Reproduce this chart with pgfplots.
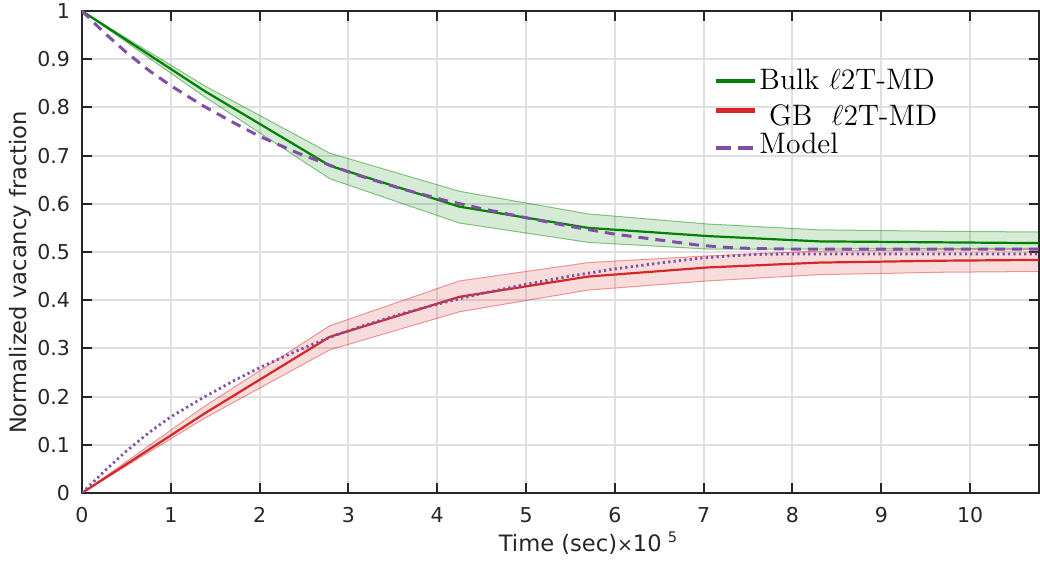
\documentclass[border=0pt]{standalone}
\usepackage{pgfplots}
\pgfplotsset{compat=1.18}
\usepackage{fontspec}
\newfontfamily\djv{DejaVu Sans}

\definecolor{bulk}{RGB}{0,128,0}
\definecolor{gb}{RGB}{214,39,40}
\definecolor{model}{RGB}{126,79,164}
\definecolor{axgray}{RGB}{38,38,38}
\definecolor{gridgray}{RGB}{224,224,224}

% Bulk l2T-MD: mean
\pgfplotstableread{
x     m
0     1.000
1.38  0.834
2.79  0.679
4.25  0.594
5.70  0.550
7.05  0.533
8.30  0.522
9.70  0.520
11.1  0.518
}\bulkdata

% GB l2T-MD: mean
\pgfplotstableread{
x     m
0     0.000
1.38  0.165
2.79  0.324
4.25  0.407
5.70  0.449
7.05  0.468
8.30  0.478
9.70  0.482
11.1  0.484
}\gbdata

% Model: bulk (dashed) and GB (dotted)
\pgfplotstableread{
x      bulk   gb
0      1.000  0.000
0.25   0.955  0.045
0.5    0.914  0.087
0.766  0.875  0.127
1      0.845  0.158
1.366  0.803  0.198
1.7    0.769  0.232
2      0.740  0.260
2.42   0.706  0.295
2.79   0.680  0.323
3.13   0.658  0.345
3.6    0.631  0.372
4.09   0.607  0.396
4.5    0.590  0.414
5      0.571  0.433
5.5    0.553  0.450
6      0.537  0.465
6.5    0.525  0.477
6.95   0.514  0.487
7.3    0.509  0.492
7.6    0.507  0.495
8      0.506  0.496
10.8   0.506  0.496
}\modeldata

\begin{document}
\begin{tikzpicture}
\begin{axis}[
  at={(41pt,34.5pt)}, anchor=south west,
  scale only axis, width=478.25pt, height=241pt,
  xmin=0, xmax=10.77, ymin=0, ymax=1,
  xtick={0,1,2,3,4,5,6,7,8,9,10},
  ytick={0,0.1,0.2,0.3,0.4,0.5,0.6,0.7,0.8,0.9,1},
  /pgf/number format/assume math mode=true,
  tick label style={font=\fontsize{10.25}{12}\selectfont\djv, text=axgray},
  xticklabel style={yshift=-3.5pt},
  yticklabel style={xshift=-2.5pt},
  grid=major,
  major grid style={draw=gridgray, line width=1pt},
  tick align=inside, major tick length=5pt,
  tick style={draw=axgray, line width=1pt},
  axis line style={draw=axgray, line width=1pt},
  xlabel={Time (sec)\rlap{{\fontsize{9.5}{11}\selectfont ×}10\hspace{3pt}\raisebox{4.5pt}{\fontsize{7.3}{9}\selectfont\djv 5}}},
  xlabel style={at={(axis description cs:0.4976,-0.1224)}, anchor=base,
                font=\fontsize{11.3}{13}\selectfont\djv, text=axgray},
  ylabel={Normalized vacancy fraction},
  ylabel style={at={(axis description cs:-0.0767,0.4575)}, anchor=north, inner sep=0pt,
                font=\fontsize{11.3}{13}\selectfont\djv, text=axgray},
  legend style={draw=none, fill=none, at={(rel axis cs:0.66,0.884)}, anchor=north west,
                font=\fontsize{14.8}{17}\selectfont, inner sep=0pt,
                nodes={inner sep=1pt}},
  legend cell align=left,
  legend image code/.code={\draw[#1] (0pt,0pt) -- (19.5pt,0pt);},
]
% spread bands (upper edge forward, lower edge back)
\addplot[forget plot, draw=bulk, draw opacity=0.45, line width=0.5pt, fill=bulk, fill opacity=0.16]
  coordinates {(0,1) (1.38,0.845) (2.79,0.705) (4.25,0.626) (5.70,0.579) (7.05,0.558) (8.30,0.546) (9.70,0.543) (11.1,0.541)
               (11.1,0.508) (9.70,0.507) (8.30,0.506) (7.05,0.506) (5.70,0.520) (4.25,0.560) (2.79,0.652) (1.38,0.822) (0,1)};
\addplot[forget plot, draw=gb, draw opacity=0.45, line width=0.5pt, fill=gb, fill opacity=0.16]
  coordinates {(0,0) (1.38,0.180) (2.79,0.347) (4.25,0.440) (5.70,0.478) (7.05,0.492) (8.30,0.502) (9.70,0.505) (11.1,0.506)
               (11.1,0.460) (9.70,0.458) (8.30,0.453) (7.05,0.440) (5.70,0.421) (4.25,0.376) (2.79,0.297) (1.38,0.155) (0,0)};
% mean curves
\addplot[bulk, line width=1.1pt, legend image post style={line width=2.4pt}] table[x=x, y=m] {\bulkdata};
\addlegendentry{Bulk $\ell$2T-MD}
\addplot[gb, line width=1.1pt, legend image post style={line width=2.4pt, yshift=1pt}] table[x=x, y=m] {\gbdata};
\addlegendentry{\rule{0pt}{14.5pt}~GB~~$\ell$2T-MD}
\addplot[model, line width=1.5pt, dash pattern=on 5pt off 3.5pt,
         legend image post style={line width=2.4pt, dash pattern=on 7.5pt off 3.5pt, yshift=-1.7pt}] table[x=x, y=bulk] {\modeldata};
\addlegendentry{Model}
\addplot[forget plot, model, line width=1.4pt, dash pattern=on 1.1pt off 1.6pt] table[x=x, y=gb] {\modeldata};
\end{axis}
\pgfresetboundingbox
\path[use as bounding box] (0,0) rectangle (520pt,281pt);
\end{tikzpicture}
\end{document}
